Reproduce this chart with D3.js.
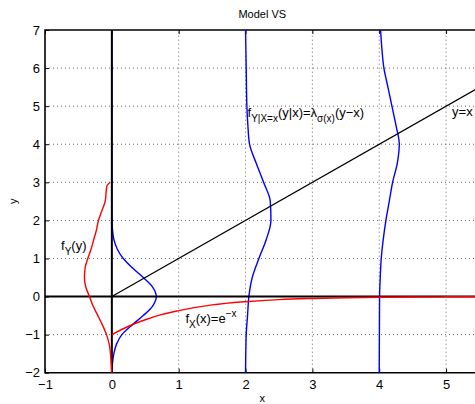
<!DOCTYPE html>
<html>
<head>
<meta charset="utf-8">
<script src="https://cdnjs.cloudflare.com/ajax/libs/d3/7.8.5/d3.min.js"></script>
<style>
  body { margin: 0; background: #fff; }
  svg { display: block; font-family: "Liberation Sans", Arial, sans-serif; }
</style>
</head>
<body>
<script>
// tick values of both axes
var xTicks = [-1, 0, 1, 2, 3, 4, 5];
var yTicks = [-2, -1, 0, 1, 2, 3, 4, 5, 6, 7];

// reference line y = x
var diagX = [0, 5.5];
var diagY = [0, 5.5];

// f_X(x) = e^-x, drawn downwards from y = 0
var fxX = [0, 0.25, 0.5, 0.75, 1, 1.5, 2, 2.5, 3, 3.5, 4, 4.5, 5, 5.5];
var fxVal = [1, 0.78, 0.61, 0.47, 0.37, 0.22, 0.135, 0.08, 0.05, 0.03, 0.018, 0.011, 0.007, 0.004];

// f_Y(y), drawn leftwards from x = 0
var fyY = [-2, -1.75, -1.5, -1.25, -1, -0.75, -0.5, -0.25, 0, 0.25, 0.5, 0.75, 1, 1.25, 1.5, 1.75, 2, 2.25, 2.5, 2.75, 2.9, 3.0];
var fyVal = [0, 0.01, 0.02, 0.04, 0.08, 0.14, 0.21, 0.28, 0.335, 0.39, 0.41, 0.4, 0.36, 0.31, 0.27, 0.23, 0.2, 0.15, 0.1, 0.085, 0.075, 0.025];

// conditional densities f_Y|X=x, one per x position (drawn to the right)
var condX = [0, 2, 4];
var condY = [
  [-2, -1.75, -1.5, -1.25, -1, -0.75, -0.5, -0.25, 0, 0.25, 0.5, 0.75, 1, 1.25, 1.5, 1.75, 2, 7],
  [-2, -1, -0.5, 0, 0.5, 1, 1.5, 2, 2.5, 3, 3.5, 4, 4.5, 5, 6, 7],
  [-2, 0, 0.5, 1, 1.5, 2, 2.5, 3, 3.5, 4, 4.5, 5, 5.5, 6, 6.5, 7]
];
var condVal = [
  [0, 0.01, 0.03, 0.07, 0.15, 0.3, 0.47, 0.61, 0.665, 0.61, 0.47, 0.31, 0.17, 0.08, 0.03, 0.01, 0, 0],
  [0, 0.01, 0.03, 0.05, 0.1, 0.2, 0.31, 0.38, 0.37, 0.27, 0.16, 0.06, 0.035, 0.02, 0.01, 0],
  [0, 0.005, 0.015, 0.03, 0.06, 0.1, 0.15, 0.2, 0.27, 0.3, 0.25, 0.19, 0.13, 0.07, 0.04, 0.02]
];

var W = 475, H = 404;
var mLeft = 45, mTop = 30, mRight = 479.5, mBottom = 372.7;

var svg = d3.select("body").append("svg")
  .attr("width", W)
  .attr("height", H);

var x = d3.scaleLinear().domain([-1, 5.5]).range([mLeft, mRight]);
var y = d3.scaleLinear().domain([-2, 7]).range([mBottom, mTop]);

// dotted grid
var grid = svg.append("g")
  .attr("stroke", "#666")
  .attr("stroke-width", 1)
  .attr("stroke-dasharray", "1,3");

grid.selectAll(".gx").data(xTicks.slice(1)).enter().append("line")
  .attr("x1", function (d) { return x(d); })
  .attr("x2", function (d) { return x(d); })
  .attr("y1", y(-2))
  .attr("y2", y(7));

grid.selectAll(".gy").data(yTicks.slice(1, -1)).enter().append("line")
  .attr("x1", x(-1))
  .attr("x2", x(5.5))
  .attr("y1", function (d) { return y(d); })
  .attr("y2", function (d) { return y(d); });

// axes with inward ticks
var fmt = function (d) { return d < 0 ? "\u2212" + (-d) : d; };
var xAxis = svg.append("g")
  .attr("transform", "translate(0," + mBottom + ")")
  .call(d3.axisBottom(x).tickValues(xTicks).tickSize(-4).tickPadding(7).tickFormat(fmt));
var yAxis = svg.append("g")
  .attr("transform", "translate(" + mLeft + ",0)")
  .call(d3.axisLeft(y).tickValues(yTicks).tickSize(-4).tickPadding(5).tickFormat(fmt));
var topAxis = svg.append("g")
  .attr("transform", "translate(0," + mTop + ")")
  .call(d3.axisTop(x).tickValues(xTicks).tickSize(-4).tickFormat(""));

[xAxis, yAxis, topAxis].forEach(function (a) {
  a.select(".domain").remove();
  a.selectAll("text").attr("font-size", 13).attr("fill", "#000")
    .attr("font-family", "Liberation Sans, Arial, sans-serif");
  a.selectAll("line").attr("stroke", "#000");
});

// the axes box
svg.append("path")
  .attr("d", "M" + mRight + "," + mTop + "H" + mLeft + "V" + mBottom + "H" + mRight)
  .attr("fill", "none")
  .attr("stroke", "#000")
  .attr("stroke-width", 1.6);

// blue conditional densities
var vline = d3.line().curve(d3.curveMonotoneY);

condX.forEach(function (cx, i) {
  var pts = condY[i].map(function (yy, j) { return [x(cx + condVal[i][j]), y(yy)]; });
  svg.append("path")
    .attr("d", vline(pts))
    .attr("fill", "none")
    .attr("stroke", "#0000ff")
    .attr("stroke-width", 1.4);
});

// thick lines x = 0 and y = 0
svg.append("line")
  .attr("x1", x(0)).attr("x2", x(0))
  .attr("y1", y(-2)).attr("y2", y(7))
  .attr("stroke", "#000").attr("stroke-width", 2);
svg.append("line")
  .attr("x1", x(-1)).attr("x2", x(5.5))
  .attr("y1", y(0)).attr("y2", y(0))
  .attr("stroke", "#000").attr("stroke-width", 2);

// y = x
svg.append("line")
  .attr("x1", x(diagX[0])).attr("x2", x(diagX[1]))
  .attr("y1", y(diagY[0])).attr("y2", y(diagY[1]))
  .attr("stroke", "#000").attr("stroke-width", 1.3);

// red marginals
svg.append("path")
  .attr("d", vline(fyY.map(function (yy, j) { return [x(-fyVal[j]), y(yy)]; })))
  .attr("fill", "none")
  .attr("stroke", "#ff0000")
  .attr("stroke-width", 1.4);

var hline = d3.line().curve(d3.curveMonotoneX);
svg.append("path")
  .attr("d", hline(fxX.map(function (xx, j) { return [x(xx), y(-fxVal[j])]; })))
  .attr("fill", "none")
  .attr("stroke", "#ff0000")
  .attr("stroke-width", 1.4);

// text with sub/superscripts
function richText(px, py, segs) {
  var t = svg.append("text")
    .attr("x", px)
    .attr("y", py)
    .attr("font-size", 13)
    .attr("fill", "#000");
  var cur = 0;
  segs.forEach(function (s) {
    var off = s[1] === "sub" ? 5 : (s[1] === "sup" ? -6 : 0);
    t.append("tspan")
      .attr("dy", off - cur)
      .attr("font-size", s[1] ? 10 : 13)
      .text(s[0]);
    cur = off;
  });
}

richText(x(-0.76), y(1.22), [["f"], ["Y", "sub"], ["(y)"]]);
richText(x(1.1), y(-0.7), [["f"], ["X", "sub"], ["(x)=e"], ["\u2212x", "sup"]]);
richText(x(2.03), y(4.71), [["f"], ["Y|X=x", "sub"], ["(y|x)=\u03bb"], ["\u03c3(x)", "sub"], ["(y\u2212x)"]]);
richText(x(5.09), y(4.75), [["y=x"]]);

// title and axis labels
svg.append("text")
  .attr("x", (mLeft + mRight) / 2)
  .attr("y", 18)
  .attr("text-anchor", "middle")
  .attr("font-size", 11)
  .text("Model VS");

svg.append("text")
  .attr("x", (mLeft + mRight) / 2)
  .attr("y", 402)
  .attr("text-anchor", "middle")
  .attr("font-size", 11)
  .text("x");

svg.append("text")
  .attr("transform", "translate(17," + (mTop + mBottom) / 2 + ") rotate(-90)")
  .attr("text-anchor", "middle")
  .attr("font-size", 11)
  .text("y");
</script>
</body>
</html>
